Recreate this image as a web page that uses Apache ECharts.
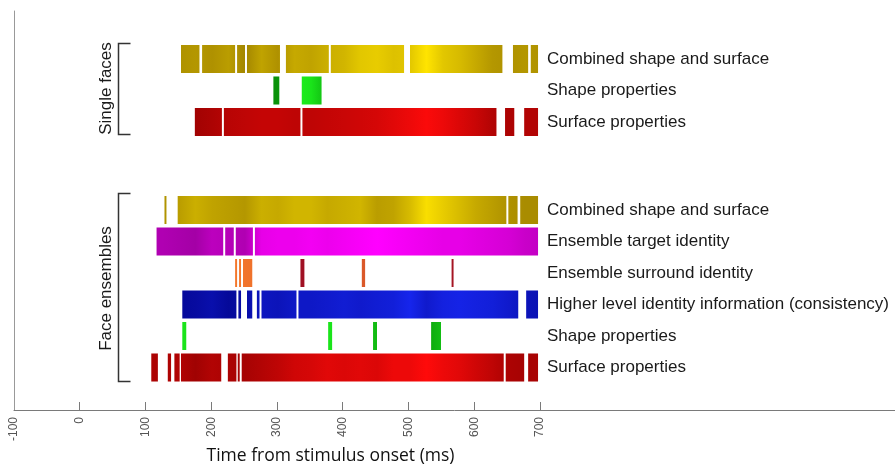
<!DOCTYPE html>
<html><head><meta charset="utf-8">
<script src="https://cdn.jsdelivr.net/npm/echarts@6/dist/echarts.min.js"></script>
<style>html,body{margin:0;padding:0;background:#fff}#c{width:895px;height:465px}</style>
</head><body><div id="c"></div>
<script>
// ---- data ----
const xTicks = [-100, 0, 100, 200, 300, 400, 500, 600, 700];
const singleRows = ['Combined shape and surface', 'Shape properties', 'Surface properties'];
const ensembleRows = ['Combined shape and surface', 'Ensemble target identity', 'Ensemble surround identity',
  'Higher level identity information (consistency)', 'Shape properties', 'Surface properties'];
const groupNames = ['Single faces', 'Face ensembles'];
const axisTitle = 'Time from stimulus onset (ms)';

// significant time windows [start, end] in ms
const sfCombined = [[153,181],[185,235],[238,250],[253,303],[312,377],[380,491],[500,640],[656,679],[683,694]];
const sfShape = [[293,302],[336,366]];
const sfSurface = [[174,215],[218,334],[337,631],[644,658],[673,694]];
const feCombined = [[128,131],[148,646],[649,663],[667,694]];
const feTarget = [[116,217],[220,233],[236,262],[265,694]];
const feSurround = [[235,238],[241,244],[247,261],[334,340],[427,432],[563,566]];
const feHigher = [[155,237],[240,244],[253,261],[268,272],[275,328],[331,664],[676,694]];
const feShape = [[155,161],[376,382],[444,450],[532,547]];
const feSurface = [[108,118],[133,138],[143,151],[153,214],[224,237],[239,242],[245,642],[645,673],[679,694]];

// colour intensity samples (0 = dark, 1 = bright), at these times
const sampleTimes = [100,125,150,175,200,225,250,275,300,325,350,375,400,425,450,475,500,525,550,575,600,625,650,675,700];
const sfCombinedI = [0.3,0.3,0.3,0.35,0.3,0.4,0.2,0.45,0.3,0.5,0.45,0.55,0.6,0.75,0.8,0.7,0.75,1.0,0.75,0.65,0.5,0.35,0.3,0.35,0.3];
const sfShapeI = [0.2,0.2,0.2,0.2,0.2,0.2,0.2,0.2,0.2,1.0,0.9,0.5,0.5,0.5,0.5,0.5,0.5,0.5,0.5,0.5,0.5,0.5,0.5,0.5,0.5];
const sfSurfaceI = [0.3,0.3,0.3,0.22,0.3,0.4,0.45,0.5,0.5,0.45,0.45,0.5,0.55,0.6,0.65,0.75,0.85,0.97,0.85,0.7,0.55,0.35,0.3,0.35,0.35];
const feCombinedI = [0.3,0.3,0.4,0.55,0.45,0.4,0.35,0.55,0.5,0.6,0.6,0.5,0.55,0.6,0.4,0.45,0.65,0.95,0.8,0.65,0.5,0.4,0.3,0.25,0.25];
const feTargetI = [0.35,0.35,0.3,0.25,0.45,0.4,0.35,0.8,0.85,0.85,0.9,0.85,0.9,0.95,1.0,0.95,0.9,0.85,0.8,0.8,0.75,0.7,0.65,0.55,0.5];
const feSurroundI = [1,1,1,1,1,1,0.95,0.9,0.5,0.05,0.05,0.4,0.7,0.7,0.7,0.5,0.3,0.1,0.1,0.1,0.1,0.1,0.1,0.1,0.1];
const feHigherI = [0.2,0.2,0.2,0.25,0.35,0.2,0.3,0.5,0.45,0.55,0.55,0.6,0.65,0.6,0.65,0.7,0.85,0.6,0.75,0.8,0.75,0.7,0.6,0.45,0.4];
const feShapeI = [0.9,0.9,0.9,0.9,0.9,0.9,0.9,0.9,0.9,0.9,0.9,0.9,0.9,0.6,0.55,0.5,0.45,0.35,0.6,0.5,0.5,0.5,0.5,0.5,0.5];
const feSurfaceI = [0.3,0.3,0.35,0.2,0.35,0.3,0.25,0.35,0.45,0.6,0.65,0.75,0.7,0.75,0.7,0.85,0.85,1.0,0.85,0.75,0.6,0.45,0.3,0.25,0.3];

// ---- colour helpers ----
const palette = {
  yellow: ['#8c6e00', '#ffe400'],
  green: ['#067a06', '#1cf01c'],
  red: ['#880000', '#ff0a0a'],
  magenta: ['#860088', '#ff00ff'],
  orange: ['#9c0a22', '#f57a2c'],
  blue: ['#000080', '#1a2cff']
};
function hex(c){return [parseInt(c.slice(1,3),16),parseInt(c.slice(3,5),16),parseInt(c.slice(5,7),16)];}
function mix(pair, t){
  const a = hex(pair[0]), b = hex(pair[1]);
  return 'rgb(' + a.map((v,i)=>Math.round(v + (b[i]-v)*t)).join(',') + ')';
}
function intensityAt(arr, t){
  if (t <= sampleTimes[0]) return arr[0];
  for (let i = 1; i < sampleTimes.length; i++) {
    if (t <= sampleTimes[i]) {
      const f = (t - sampleTimes[i-1]) / (sampleTimes[i] - sampleTimes[i-1]);
      return arr[i-1] + (arr[i] - arr[i-1]) * f;
    }
  }
  return arr[arr.length-1];
}

function makeSeries(axisIdx, rowIdx, segs, intens, colorName){
  const pair = palette[colorName];
  return {
    type: 'custom', xAxisIndex: axisIdx, yAxisIndex: axisIdx,
    data: segs.map(s => [s[0], s[1], rowIdx]),
    encode: {x: [0, 1], y: 2},
    silent: true,
    renderItem: function(params, api){
      const s = api.value(0), e = api.value(1), r = api.value(2);
      const p0 = api.coord([s, r]), p1 = api.coord([e, r]);
      const h = api.size([0, 1])[1] * 0.89;
      const stops = [{offset: 0, color: mix(pair, intensityAt(intens, s))}];
      sampleTimes.forEach(t => { if (t > s && t < e) stops.push({offset: (t - s) / (e - s), color: mix(pair, intensityAt(intens, t))}); });
      stops.push({offset: 1, color: mix(pair, intensityAt(intens, e))});
      return {type: 'rect', shape: {x: p0[0], y: p0[1] - h / 2, width: p1[0] - p0[0], height: h},
        style: {fill: {type: 'linear', x: 0, y: 0, x2: 1, y2: 0, colorStops: stops}}};
    }
  };
}

const LEFT = 14, PX = 0.66;
const FONT = 'Liberation Sans, Arial, sans-serif';
const chart = echarts.init(document.getElementById('c'), null, {renderer: 'canvas'});
const rowAxisLabel = {margin: 5, fontSize: 17, color: '#1a1a1a', fontFamily: FONT};
const hiddenX = (g) => ({gridIndex: g, type: 'value', min: -100, max: 700, show: false});
const rowY = (g, rows) => ({gridIndex: g, type: 'category', data: rows, inverse: true, position: 'right',
  axisLine: {show: false}, axisTick: {show: false}, splitLine: {show: false}, axisLabel: rowAxisLabel});

chart.setOption({
  animation: false,
  backgroundColor: '#fff',
  grid: [
    {left: LEFT, top: 11, width: 1340 * PX, height: 399},
    {left: LEFT, top: 43.25, width: 800 * PX, height: 94.5},
    {left: LEFT, top: 194.25, width: 800 * PX, height: 189}
  ],
  xAxis: [
    {gridIndex: 0, type: 'value', min: -100, max: 1240, interval: 100,
      axisLine: {show: true, onZero: false, lineStyle: {color: '#7a7a7a', width: 1}},
      axisTick: {show: true, inside: true, length: 8, lineStyle: {color: '#7a7a7a'}, customValues: xTicks.slice(1)},
      axisLabel: {rotate: 90, margin: 7, fontSize: 12, color: '#555', fontFamily: FONT, customValues: xTicks, showMinLabel: true},
      splitLine: {show: false}},
    hiddenX(1), hiddenX(2)
  ],
  yAxis: [
    {gridIndex: 0, type: 'value', min: 0, max: 1, position: 'left',
      axisLine: {show: true, onZero: false, lineStyle: {color: '#999', width: 1}}, axisTick: {show: false}, axisLabel: {show: false}, splitLine: {show: false}},
    rowY(1, singleRows), rowY(2, ensembleRows)
  ],
  series: [
    makeSeries(1, 0, sfCombined, sfCombinedI, 'yellow'),
    makeSeries(1, 1, sfShape, sfShapeI, 'green'),
    makeSeries(1, 2, sfSurface, sfSurfaceI, 'red'),
    makeSeries(2, 0, feCombined, feCombinedI, 'yellow'),
    makeSeries(2, 1, feTarget, feTargetI, 'magenta'),
    makeSeries(2, 2, feSurround, feSurroundI, 'orange'),
    makeSeries(2, 3, feHigher, feHigherI, 'blue'),
    makeSeries(2, 4, feShape, feShapeI, 'green'),
    makeSeries(2, 5, feSurface, feSurfaceI, 'red')
  ],
  graphic: [
    {type: 'polyline', shape: {points: [[130.5, 43.5], [118.5, 43.5], [118.5, 134.5], [130.5, 134.5]]}, style: {stroke: '#333', lineWidth: 1.5, fill: null}},
    {type: 'polyline', shape: {points: [[130.5, 193.5], [118.5, 193.5], [118.5, 381.5], [130.5, 381.5]]}, style: {stroke: '#333', lineWidth: 1.5, fill: null}},
    {type: 'text', x: 106, y: 88.5, rotation: Math.PI / 2, style: {text: groupNames[0], fontSize: 17, fill: '#1a1a1a', fontFamily: FONT, textAlign: 'center', textVerticalAlign: 'middle'}},
    {type: 'text', x: 106, y: 288.5, rotation: Math.PI / 2, style: {text: groupNames[1], fontSize: 17, fill: '#1a1a1a', fontFamily: FONT, textAlign: 'center', textVerticalAlign: 'middle'}},
    {type: 'text', x: 330.5, y: 456, style: {text: axisTitle, fontSize: 17.5, fill: '#111', fontFamily: 'Open Sans, Lato, sans-serif', textAlign: 'center', textVerticalAlign: 'middle'}}
  ]
});
</script></body></html>
